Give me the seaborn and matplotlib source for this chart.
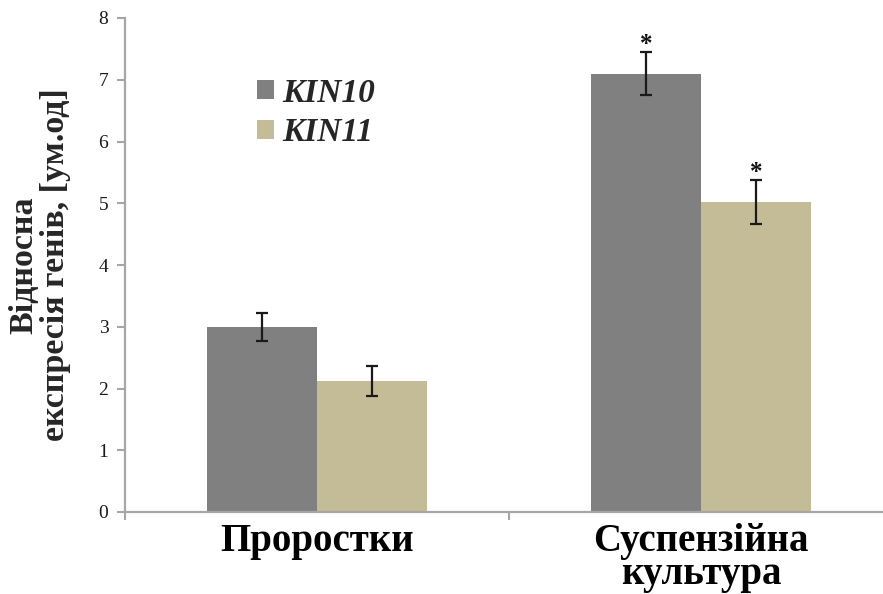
import numpy as np
import pandas as pd
import matplotlib
matplotlib.use("Agg")
import matplotlib.pyplot as plt
import seaborn as sns
from matplotlib.patches import Patch

# Relative gene expression, conventional units
categories = ["Проростки", "Суспензійна\nкультура"]
genes = ["KIN10", "KIN11"]
kin10_values = [3.00, 7.10]
kin11_values = [2.12, 5.02]
kin10_errors = [0.23, 0.35]
kin11_errors = [0.24, 0.36]
significant = {"KIN10": [False, True], "KIN11": [False, True]}
y_ticks = [0, 1, 2, 3, 4, 5, 6, 7, 8]

colors = {"KIN10": "#808080", "KIN11": "#C4BC96"}

df = pd.DataFrame({
    "category": categories * 2,
    "gene": ["KIN10"] * 2 + ["KIN11"] * 2,
    "value": kin10_values + kin11_values,
    "err": kin10_errors + kin11_errors,
})

sns.set_style("white")
plt.rcParams["font.family"] = ["Liberation Serif", "DejaVu Serif"]

fig = plt.figure(figsize=(8.83, 5.94), dpi=100)
ax = fig.add_axes([125 / 883, 82 / 594, 768 / 883, 494 / 594])

sns.barplot(data=df, x="category", y="value", hue="gene", hue_order=genes,
            order=categories, palette=colors, width=0.573, errorbar=None,
            saturation=1, linewidth=0, legend=False, ax=ax)

# error bars and significance marks on top of each bar
for gene, container in zip(genes, ax.containers):
    sub = df[df["gene"] == gene].set_index("category").loc[categories]
    for i, (bar, val, err) in enumerate(zip(container, sub["value"], sub["err"])):
        xc = bar.get_x() + bar.get_width() / 2
        ax.errorbar(xc, val, yerr=err, fmt="none", ecolor="#1a1a1a",
                    elinewidth=1.6, capsize=4.5, capthick=1.6, zorder=5)
        if significant[gene][i]:
            ax.annotate("*", (xc, val + err), xytext=(0, -3),
                        textcoords="offset points", ha="center", va="bottom",
                        fontsize=18, fontweight="bold", color="#111111")

ax.set_xlim(-0.5, 1.5)
ax.set_ylim(0, 8)
ax.set_yticks(y_ticks)
ax.set_yticklabels([str(t) for t in y_ticks], fontsize=14, color="#1a1a1a")

ax.set_xticks([0, 1])
ax.set_xticklabels(categories, fontsize=28, fontweight="bold",
                   linespacing=0.86, color="#000000")
ax.tick_params(axis="x", length=0, pad=8)
ax.set_xticks([-0.5, 0.5], minor=True)
ax.tick_params(axis="x", which="minor", length=6, width=1.5, color="#a6a6a6",
               direction="out", bottom=True)
ax.tick_params(axis="y", length=6, width=1.5, color="#a6a6a6",
               direction="out", left=True, pad=6)

ax.set_xlabel("")
ax.set_ylabel("Відносна\nекспресія генів, [ум.од]", fontsize=24.5,
              fontweight="bold", linespacing=1.0, labelpad=20)

for side in ["top", "right"]:
    ax.spines[side].set_visible(False)
for side in ["left", "bottom"]:
    ax.spines[side].set_color("#a6a6a6")
    ax.spines[side].set_linewidth(1.6)

handles = [Patch(facecolor=colors[g], edgecolor="none") for g in genes]
leg = ax.legend(handles, genes, loc="upper left",
                bbox_to_anchor=(0.133, 0.94), frameon=False,
                prop={"family": "Liberation Serif", "weight": "bold",
                      "style": "italic", "size": 24},
                handlelength=0.5, handleheight=0.5, handletextpad=0.25,
                labelspacing=0.25)

fig.savefig("out.png", dpi=100)
